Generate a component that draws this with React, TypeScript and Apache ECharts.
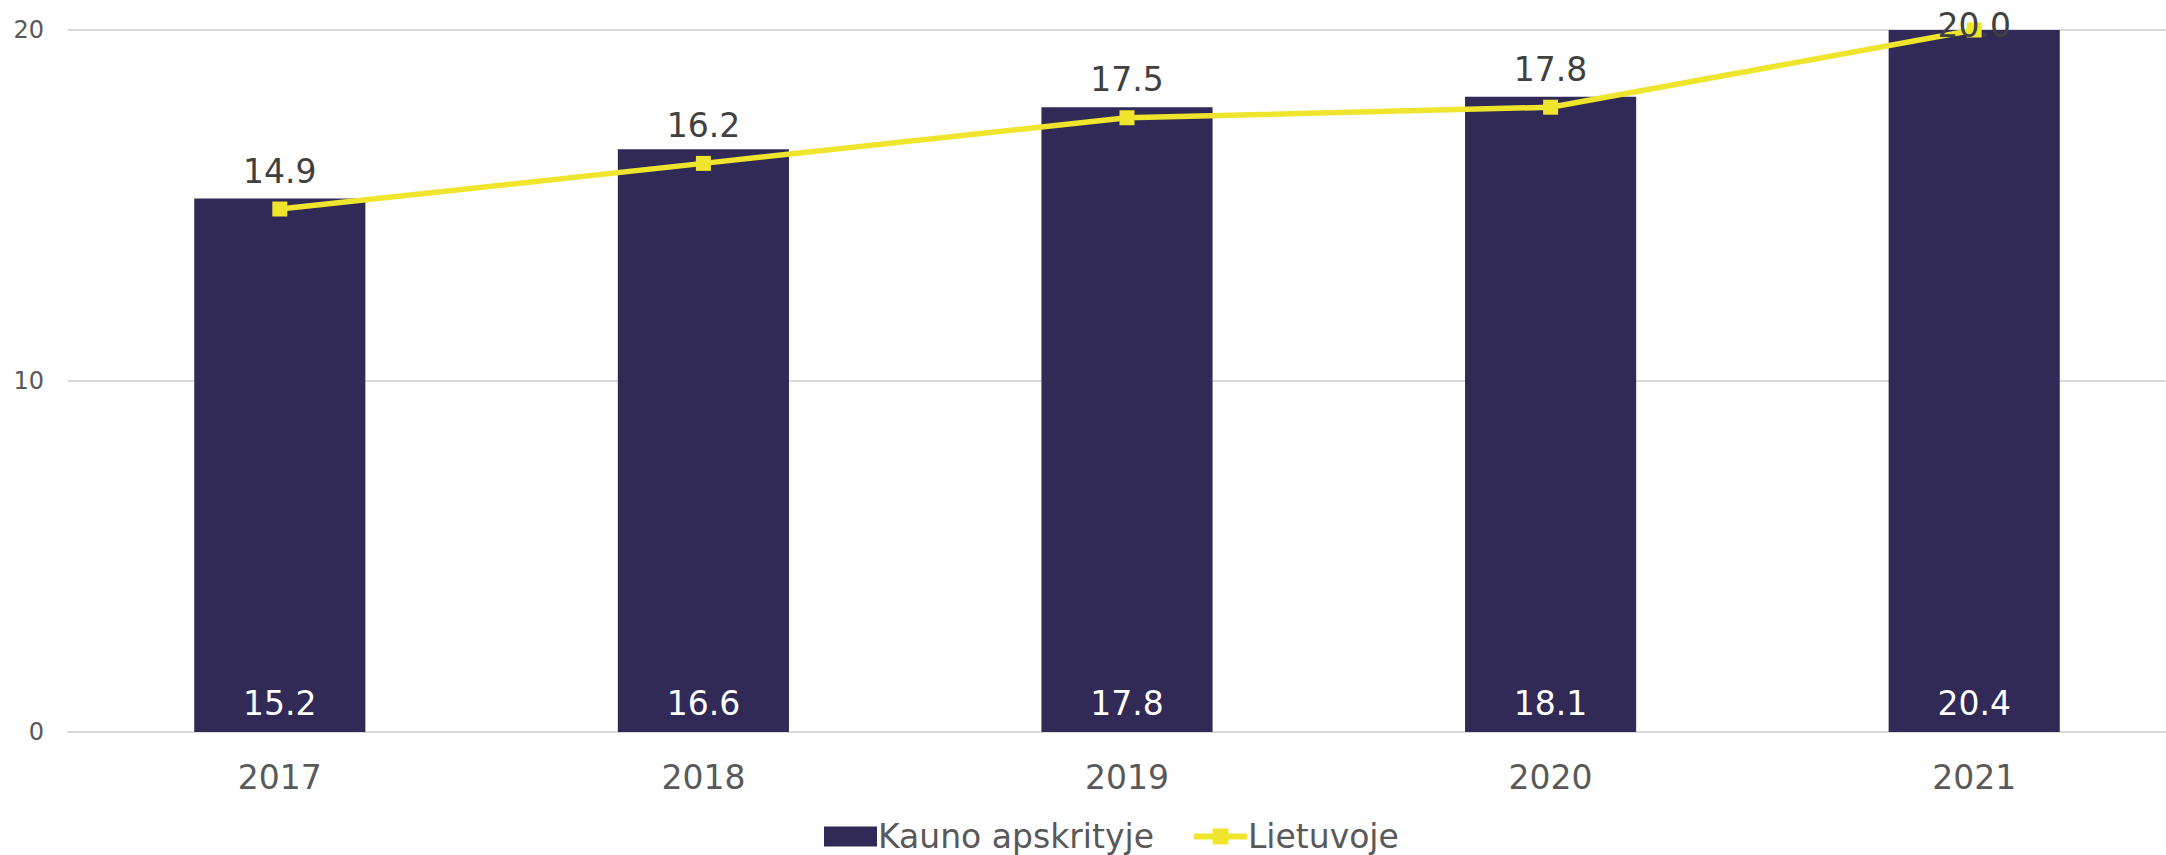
import React, { useEffect, useRef } from "react";
import * as echarts from "echarts";

const categories = ["2017", "2018", "2019", "2020", "2021"];
const kaunoValues = [15.2, 16.6, 17.8, 18.1, 20.4];
const lietuvojeValues = [14.9, 16.2, 17.5, 17.8, 20.0];
const seriesNames = ["Kauno apskrityje", "Lietuvoje"];

const FONT = "'DejaVu Sans', Verdana, sans-serif";

export default function App() {
  const ref = useRef<HTMLDivElement>(null);
  useEffect(() => {
    document.body.style.margin = "0";
    document.body.style.overflow = "hidden";
    const chart = echarts.init(ref.current!, null, { renderer: "svg" });
    const lineData = lietuvojeValues.map((v, i) =>
      i === lietuvojeValues.length - 1
        ? { value: v, label: { position: "inside", offset: [0, -5] } }
        : v
    );
    chart.setOption({
      animation: false,
      textStyle: { fontFamily: FONT },
      grid: { left: 68, right: 14, top: 30, bottom: 123, containLabel: false },
      legend: {
        bottom: -3,
        left: 819,
        itemGap: 37,
        itemWidth: 53,
        itemHeight: 20,
        textStyle: { fontSize: 33, color: "#595959", fontFamily: FONT, padding: [0, 0, 0, -4] },
        data: [
          { name: seriesNames[0], icon: "rect" },
          { name: seriesNames[1], lineStyle: { width: 6 } },
        ],
      },
      xAxis: {
        type: "category",
        data: categories,
        axisLine: { show: true, lineStyle: { color: "#d9d9d9", width: 2 } },
        axisTick: { show: false },
        axisLabel: { fontSize: 33, color: "#595959", margin: 29, fontFamily: FONT },
      },
      yAxis: {
        type: "value",
        min: 0,
        max: 20,
        interval: 10,
        axisLine: { show: false },
        axisTick: { show: false },
        splitLine: { lineStyle: { color: "#d9d9d9", width: 2 } },
        axisLabel: { fontSize: 24, color: "#595959", margin: 24, fontFamily: FONT },
      },
      series: [
        {
          name: seriesNames[0],
          type: "bar",
          data: kaunoValues,
          barWidth: "40.4%",
          clip: true,
          itemStyle: { color: "#312a57" },
          label: {
            show: true,
            position: "insideBottom",
            distance: 12,
            color: "#ffffff",
            fontSize: 33,
            fontFamily: FONT,
            formatter: (p: any) => p.value.toFixed(1),
          },
        },
        {
          name: seriesNames[1],
          type: "line",
          data: lineData,
          symbol: "rect",
          symbolSize: 15,
          itemStyle: { color: "#eee52c" },
          lineStyle: { color: "#eee52c", width: 5.5 },
          label: {
            show: true,
            position: "top",
            distance: 14,
            color: "#404040",
            fontSize: 33,
            fontFamily: FONT,
            formatter: (p: any) => Number(p.value).toFixed(1),
          },
          z: 3,
        },
      ],
    });
    return () => chart.dispose();
  }, []);
  return <div ref={ref} style={{ width: 2200, height: 855 }} />;
}
